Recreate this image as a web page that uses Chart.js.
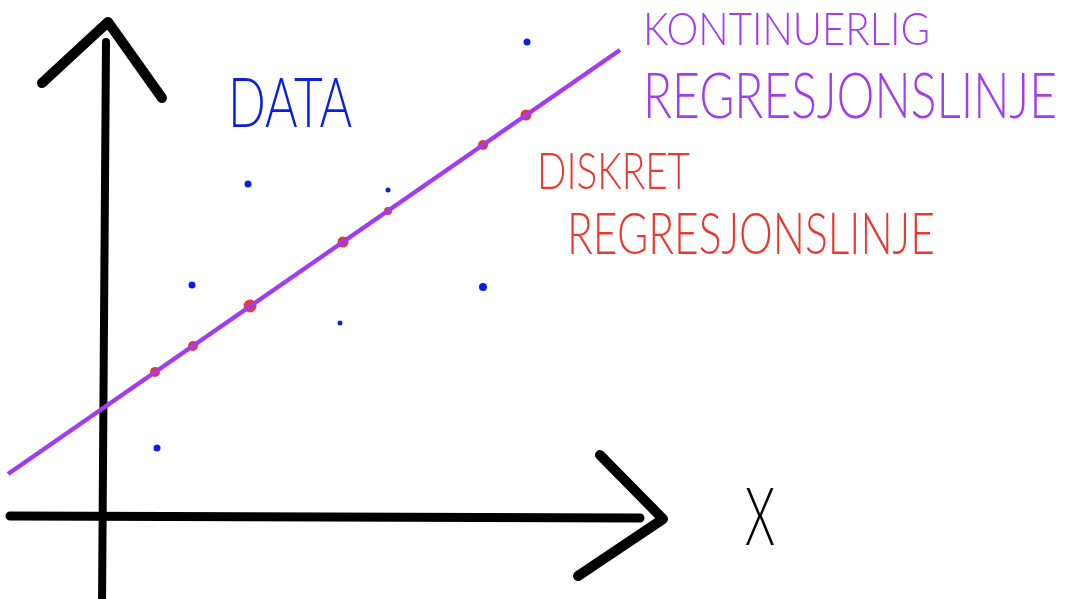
<!DOCTYPE html>
<html>
<head>
<meta charset="utf-8">
<script src="https://cdn.jsdelivr.net/npm/chart.js@4"></script>
<style>
  html, body { margin: 0; padding: 0; background: #fff; }
  #wrap { width: 1067px; height: 599px; }
</style>
</head>
<body>
<div id="wrap"><canvas id="sketch" width="1067" height="599"></canvas></div>
<script>
// values (origin = where the two axes cross, 1 unit = 10 px)
const lineX = [-9.5, 51.7];          // continuous regression line end points
const lineY = [4.1, 46.5];
const discreteX = [5.2, 9.0, 14.7, 24.0, 28.5, 38.0, 42.3];   // red points on the line
const discreteY = [14.3, 16.9, 20.9, 27.3, 30.4, 37.0, 40.0];
const dataX = [42.4, 14.5, 28.5, 8.9, 38.0, 23.7, 5.4];      // blue observations
const dataY = [47.3, 33.1, 32.5, 23.0, 22.8, 19.2, 6.7];

const axisLabel = 'X';
const dataLabel = 'DATA';
const contLabel = ['KONTINUERLIG', 'REGRESJONSLINJE'];
const discLabel = ['DISKRET', 'REGRESJONSLINJE'];

const purple = '#a23cf2';
const red = '#e63a30';
const blue = '#0a1ee0';

const toPoints = (xs, ys) => xs.map((x, i) => ({ x: x, y: ys[i] }));

// hand drawn axes with arrow heads, drawn under the data
const sketchAxes = {
    id: 'sketchAxes',
    beforeDatasetsDraw(chart) {
        const { ctx, scales: { x, y } } = chart;
        const ox = x.getPixelForValue(0);
        const oy = y.getPixelForValue(0);
        ctx.save();
        ctx.strokeStyle = '#000';
        ctx.lineCap = 'round';
        ctx.lineJoin = 'round';

        // vertical axis
        ctx.lineWidth = 8;
        ctx.beginPath();
        ctx.moveTo(ox + 3, oy - 473);
        ctx.lineTo(ox - 1, oy + 90);
        ctx.stroke();
        ctx.lineWidth = 10;
        ctx.beginPath();
        ctx.moveTo(ox - 61, oy - 432);
        ctx.lineTo(ox + 5, oy - 493);
        ctx.lineTo(ox + 59, oy - 417);
        ctx.stroke();

        // horizontal axis
        ctx.lineWidth = 9;
        ctx.beginPath();
        ctx.moveTo(ox - 93, oy + 1);
        ctx.lineTo(ox + 537, oy + 3);
        ctx.stroke();
        ctx.lineWidth = 10;
        ctx.beginPath();
        ctx.moveTo(ox + 497, oy - 60);
        ctx.lineTo(ox + 560, oy + 4);
        ctx.lineTo(ox + 475, oy + 61);
        ctx.stroke();
        ctx.restore();
    }
};

// handwritten-looking labels, squeezed to the width they take in the sketch
function sketchText(ctx, text, left, baseline, size, width, color) {
    ctx.save();
    ctx.font = '300 ' + size + 'px Lato, "Open Sans", sans-serif';
    ctx.fillStyle = color;
    ctx.textBaseline = 'alphabetic';
    const w = ctx.measureText(text).width;
    ctx.translate(left, baseline);
    ctx.scale(width / w, 1);
    ctx.fillText(text, 0, 0);
    ctx.restore();
}

const sketchLabels = {
    id: 'sketchLabels',
    afterDatasetsDraw(chart) {
        const { ctx } = chart;
        sketchText(ctx, dataLabel, 228, 127, 68, 124, blue);
        sketchText(ctx, contLabel[0], 643, 45, 46, 287, purple);
        sketchText(ctx, contLabel[1], 643, 118, 64, 414, purple);
        sketchText(ctx, discLabel[0], 537, 189, 52, 153, red);
        sketchText(ctx, discLabel[1], 567, 254, 58, 368, red);
        sketchText(ctx, axisLabel, 745, 545, 80, 30, '#000');
    }
};

new Chart(document.getElementById('sketch'), {
    type: 'scatter',
    data: {
        datasets: [
            {
                label: 'Kontinuerlig regresjonslinje',
                data: toPoints(lineX, lineY),
                showLine: true,
                borderColor: purple,
                borderWidth: 4.5,
                pointRadius: 0
            },
            {
                label: 'Diskret regresjonslinje',
                data: toPoints(discreteX, discreteY),
                backgroundColor: red,
                borderWidth: 0,
                pointRadius: [5, 5, 6.5, 5.5, 4, 5, 5.5]
            },
            {
                label: 'Data',
                data: toPoints(dataX, dataY),
                backgroundColor: blue,
                borderWidth: 0,
                pointRadius: [3.5, 3.5, 2.5, 3.5, 4, 2.5, 3.5]
            }
        ]
    },
    options: {
        responsive: false,
        animation: false,
        layout: { padding: 0, autoPadding: false },
        plugins: {
            legend: { display: false },
            tooltip: { enabled: false }
        },
        scales: {
            x: { type: 'linear', min: -10.3, max: 96.4, display: false },
            y: { type: 'linear', min: -8.4, max: 51.5, display: false }
        }
    },
    plugins: [sketchAxes, sketchLabels]
});
</script>
</body>
</html>
